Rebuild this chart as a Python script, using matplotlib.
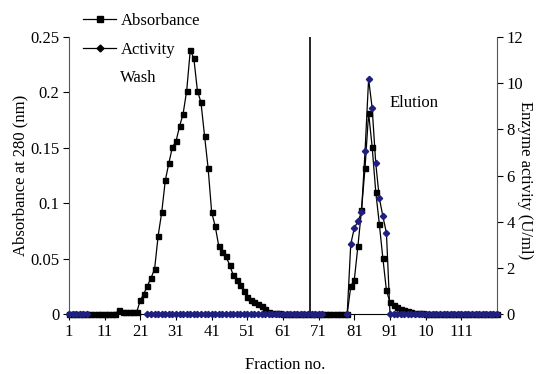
import numpy as np
import matplotlib
matplotlib.use("Agg")
import matplotlib.pyplot as plt
from matplotlib.lines import Line2D

plt.rcParams['font.family'] = ['Liberation Serif', 'DejaVu Serif']

fractions = list(range(1, 122))

absorbance = [
    0, 0, 0, 0, 0, 0, 0, 0, 0, 0, 0, 0, 0, 0,
    0.004, 0.002, 0.0015, 0.0015, 0.0015, 0.002,
    0.0123, 0.0184, 0.0256, 0.0325, 0.0406, 0.0707, 0.0918, 0.1206, 0.1363, 0.1507,
    0.1558, 0.1694, 0.1808, 0.2016, 0.2380, 0.2307, 0.2016, 0.1910, 0.1609, 0.1318,
    0.0918, 0.0791, 0.0611, 0.0560, 0.0520, 0.0445, 0.0355, 0.0310, 0.0262, 0.0205,
    0.0153, 0.0123, 0.0111, 0.0093, 0.0075, 0.0045, 0.0015, 0.001, 0.001, 0.0005,
    0, 0, 0, 0, 0, 0, 0, 0, 0, 0, 0, 0, 0, 0, 0, 0, 0, 0, 0,
    0.0249, 0.031, 0.061, 0.0935, 0.1318, 0.1814, 0.1507, 0.1104, 0.0815, 0.0502,
    0.0213, 0.0105, 0.0084, 0.0063, 0.0048, 0.0033, 0.0024, 0.0015, 0.0009, 0.0009,
    0.0006, 0.0003,
    0, 0, 0, 0, 0, 0, 0, 0, 0, 0, 0, 0, 0, 0, 0, 0, 0, 0, 0, 0,
]

activity = [
    0, 0, 0, 0, 0, 0,
    None, None, None, None, None, None, None, None, None, None, None, None, None, None, None, None,
    0, 0, 0, 0, 0, 0, 0, 0, 0, 0, 0, 0, 0, 0, 0, 0, 0, 0, 0, 0, 0, 0, 0, 0, 0,
    0, 0, 0, 0, 0, 0, 0, 0, 0, 0, 0, 0, 0, 0, 0, 0, 0, 0, 0, 0, 0, 0, 0, 0, 0,
    None, None, None, None, None, None,
    0,
    3.03, 3.73, 4.01, 4.4, 7.04, 10.18, 8.92, 6.54, 5.03, 4.23, 3.51,
    0, 0, 0, 0, 0, 0, 0, 0, 0, 0, 0, 0, 0, 0, 0, 0, 0, 0, 0, 0, 0, 0, 0, 0, 0,
    0, 0, 0, 0, 0, 0,
]

xtick_values = [1, 11, 21, 31, 41, 51, 61, 71, 81, 91, 101, 111]
xtick_labels = ["1", "11", "21", "31", "41", "51", "61", "71", "81", "91", "10", "111"]
left_ticks = [0, 0.05, 0.1, 0.15, 0.2, 0.25]
left_labels = ["0", "0.05", "0.1", "0.15", "0.2", "0.25"]
right_ticks = [0, 2, 4, 6, 8, 10, 12]
separator_fraction = 68.5

abs_arr = np.array(absorbance, dtype=float)
act_arr = np.array(activity, dtype=float)

W, H = 537, 374
fig = plt.figure(figsize=(W / 100, H / 100), dpi=100)
ax = fig.add_axes([69 / W, 1 - 314 / H, (497 - 69) / W, (314 - 37) / H])
ax2 = ax.twinx()

ax.plot(fractions, abs_arr, color='black', lw=0.9, marker='s', ms=3.6,
        mfc='black', mec='black', clip_on=False, zorder=3)
ax2.plot(fractions, act_arr, color='black', lw=0.9, marker='D', ms=3.2,
         mfc='#1f1f80', mec='#1f1f80', clip_on=False, zorder=4)

ax.axvline(separator_fraction, color='black', lw=1.2)

ax.set_xlim(1, 121)
ax.set_ylim(0, 0.25)
ax2.set_ylim(0, 12)

ax.set_xticks(xtick_values)
ax.set_xticklabels(xtick_labels)
ax.set_yticks(left_ticks)
ax.set_yticklabels(left_labels)
ax2.set_yticks(right_ticks)

for a in (ax, ax2):
    a.spines['top'].set_visible(False)
    a.tick_params(labelsize=12, direction='out', length=4, width=0.8, pad=3)
ax.spines['right'].set_visible(False)
ax2.spines['left'].set_visible(False)
ax2.spines['bottom'].set_visible(False)
ax.spines['left'].set_color('#555555')
ax2.spines['right'].set_color('#555555')

fig.text(20 / W, 1 - 175 / H, "Absorbance at 280 (nm)", rotation=90,
         ha='center', va='center', fontsize=12)
fig.text(525 / W, 1 - 180 / H, "Enzyme activity (U/ml)", rotation=270,
         ha='center', va='center', fontsize=12)
fig.text(285 / W, 1 - 365 / H, "Fraction no.", ha='center', va='center', fontsize=12)

fig.text(120 / W, 1 - 78 / H, "Wash", ha='left', va='center', fontsize=12)
fig.text(390 / W, 1 - 103 / H, "Elution", ha='left', va='center', fontsize=12)

handles = [
    Line2D([], [], color='black', lw=0.9, marker='s', ms=4, mfc='black', mec='black'),
    Line2D([], [], color='black', lw=0.9, marker='D', ms=3.5, mfc='black', mec='black'),
]
fig.legend(handles, ["Absorbance", "Activity"], loc='upper left',
           bbox_to_anchor=(83 / W, 1 - 13 / H), frameon=False, fontsize=12,
           handlelength=2.0, handletextpad=0.25, labelspacing=0.75, borderpad=0,
           borderaxespad=0)

fig.savefig("out.png", dpi=100)
